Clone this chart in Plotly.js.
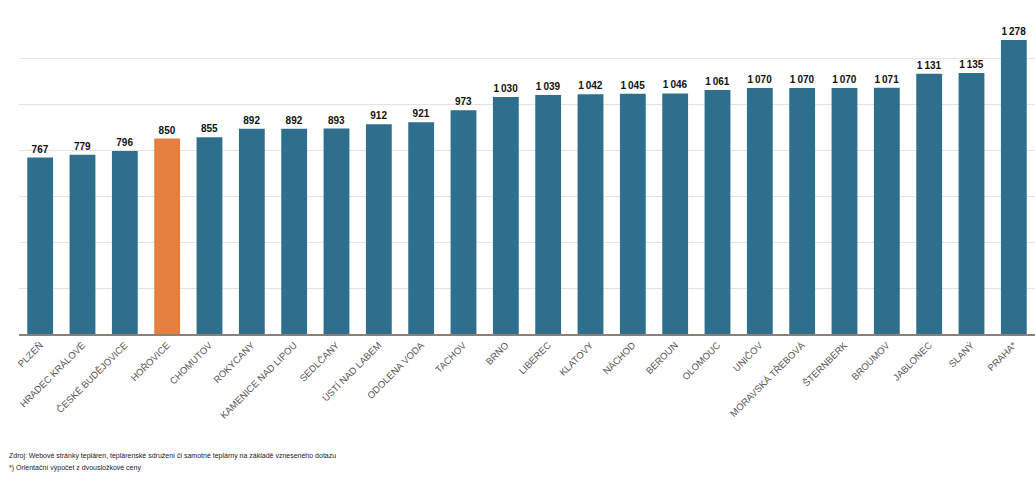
<!DOCTYPE html>
<html>
<head>
<meta charset="utf-8">
<script src="https://cdn.plot.ly/plotly-3.0.1.min.js"></script>
<style>html,body{margin:0;padding:0;background:#fff;}#chart{width:1035px;height:481px;}</style>
</head>
<body>
<div id="chart"></div>
<script>
const categories = ["PLZEŇ","HRADEC KRÁLOVÉ","ČESKÉ BUDĚJOVICE","HOŘOVICE","CHOMUTOV","ROKYCANY","KAMENICE NAD LIPOU","SEDLČANY","ÚSTÍ NAD LABEM","ODOLENA VODA","TACHOV","BRNO","LIBEREC","KLATOVY","NÁCHOD","BEROUN","OLOMOUC","UNIČOV","MORAVSKÁ TŘEBOVÁ","ŠTERNBERK","BROUMOV","JABLONEC","SLANÝ","PRAHA*"];
const values = [767,779,796,850,855,892,892,893,912,921,973,1030,1039,1042,1045,1046,1061,1070,1070,1070,1071,1131,1135,1278];
const highlight = "HOŘOVICE";
const yTicks = [0,200,400,600,800,1000,1200,1400];
const footnotes = ["Zdroj: Webové stránky tepláren, teplárenské sdružení či samotné teplárny na základě vzneseného dotazu","*) Orientační výpočet z dvousložkové ceny"];

const fmt = v => { const s = String(v); return s.length > 3 ? s.slice(0, s.length-3) + "\u2009" + s.slice(-3) : s; };
const colors = categories.map(c => c === highlight ? "#e57f3f" : "#2d6f8c");

const trace = {
  type: "bar",
  x: categories,
  y: values,
  marker: {color: colors},
  text: values.map(fmt),
  textposition: "outside",
  cliponaxis: false,
  textfont: {family: "Liberation Sans, Arial, sans-serif", size: 10, color: "#111", weight: "bold"},
  hoverinfo: "none"
};

const layout = {
  width: 1035, height: 481,
  margin: {l: 19, r: 0, t: 12, b: 147},
  paper_bgcolor: "#fff", plot_bgcolor: "#fff",
  bargap: 0.39,
  showlegend: false,
  xaxis: {
    type: "category",
    tickangle: -45,
    tickfont: {family: "Liberation Sans Narrow, Liberation Sans, Arial, sans-serif", size: 9.5, color: "#555"},
    showline: true, linecolor: "#8c7f78", linewidth: 2,
    ticks: "", showgrid: false
  },
  yaxis: {
    range: [0, 1400],
    tickvals: yTicks,
    showticklabels: false,
    showgrid: true, gridcolor: "#e3e3e3", gridwidth: 1,
    zeroline: false, showline: false
  },
  annotations: footnotes.map((t, i) => ({
    text: t, xref: "paper", yref: "paper", x: -0.012, y: 0, yshift: -122 - i*12,
    xanchor: "left", yanchor: "middle", showarrow: false,
    font: {family: "Liberation Sans Narrow, Liberation Sans, Arial, sans-serif", size: 7, color: "#222"}
  }))
};

Plotly.newPlot("chart", [trace], layout, {displayModeBar: false, staticPlot: true});
</script>
</body>
</html>
